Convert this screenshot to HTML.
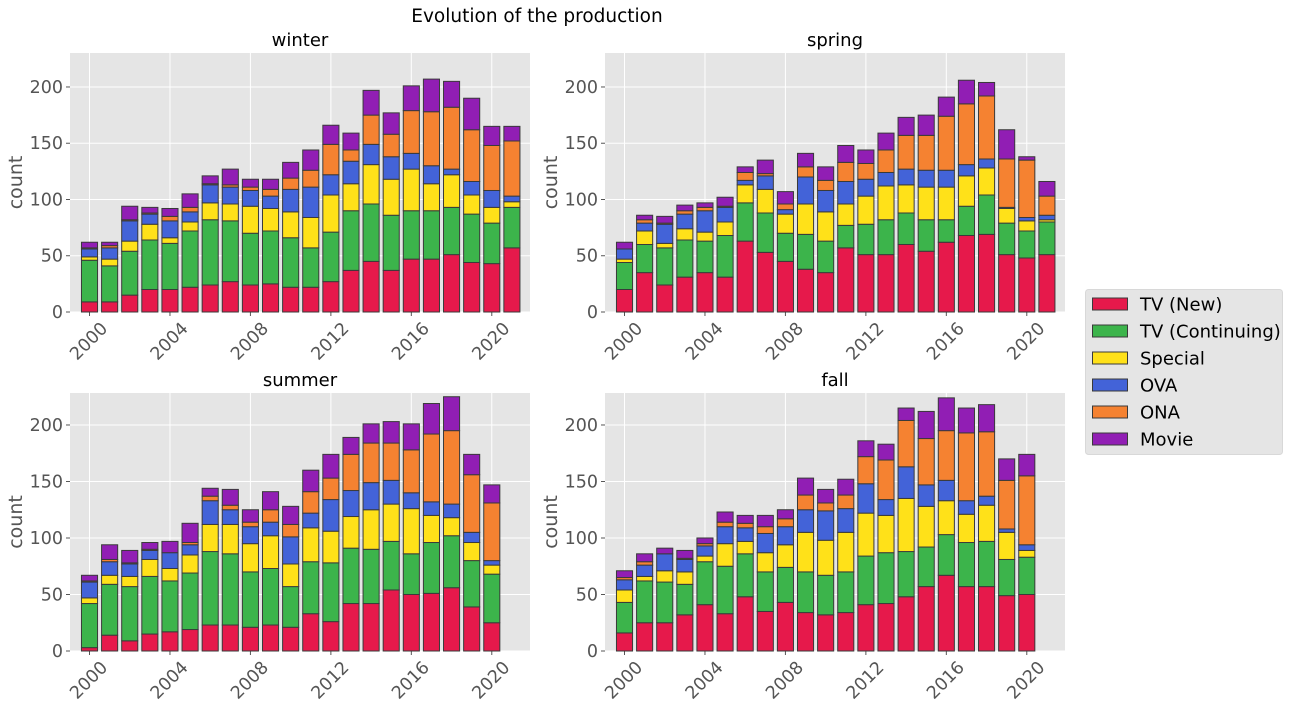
<!DOCTYPE html>
<html><head><meta charset="utf-8">
<style>
html,body{margin:0;padding:0;background:#fff;}
svg{display:block;font-family:"DejaVu Sans","Liberation Sans",sans-serif;}
</style></head>
<body>
<svg id="fig" width="1289" height="709" viewBox="0 0 1289 709" xmlns="http://www.w3.org/2000/svg">
<text x="537" y="22" font-size="18.5" text-anchor="middle" fill="#000">Evolution of the production</text>
</svg>
<script>
const years = [2000,2001,2002,2003,2004,2005,2006,2007,2008,2009,2010,2011,2012,2013,2014,2015,2016,2017,2018,2019,2020,2021];
const categories = ["TV (New)","TV (Continuing)","Special","OVA","ONA","Movie"];
const colors = ["#e6194b","#3cb44b","#ffe119","#4363d8","#f58231","#911eb4"];
const yTicks = [0,50,100,150,200];
const xTicks = [2000,2004,2008,2012,2016,2020];

const winterTvNew  = [9,9,15,20,20,22,24,27,24,25,22,22,27,37,45,37,47,47,51,44,43,57];
const winterTvCont = [37,32,39,44,41,50,58,54,46,47,44,35,44,53,51,49,43,43,42,43,36,36];
const winterSpecial= [3,6,9,14,5,8,15,15,24,20,23,27,33,24,35,32,37,24,29,17,14,5];
const winterOVA    = [7,10,18,9,15,9,16,15,14,11,20,27,18,20,18,20,14,16,5,12,15,5];
const winterONA    = [1,2,1,1,4,4,1,2,3,6,10,15,27,10,26,20,38,48,55,46,40,49];
const winterMovie  = [5,3,12,5,7,12,7,14,7,9,14,18,17,15,22,19,22,29,23,28,17,13];

const springTvNew  = [20,35,24,31,35,31,63,53,45,38,35,57,51,51,60,54,62,68,69,51,48,51];
const springTvCont = [24,25,33,33,28,37,34,35,25,31,28,20,27,31,28,28,20,26,35,28,24,29];
const springSpecial= [3,12,4,10,8,12,16,21,17,27,26,19,25,30,25,29,29,27,24,13,9,2];
const springOVA    = [9,7,17,13,19,13,4,12,4,24,19,20,15,12,14,15,15,10,8,1,3,4];
const springONA    = [0,3,1,3,3,1,7,2,5,9,9,17,14,20,30,31,48,54,56,43,51,17];
const springMovie  = [6,4,6,5,4,8,5,12,11,12,12,15,12,15,16,18,17,21,12,26,3,13];

const summerTvNew  = [3,14,9,15,17,19,23,23,21,23,21,33,26,42,42,54,50,51,56,39,25,0];
const summerTvCont = [39,45,48,51,45,50,65,63,49,50,36,46,52,49,48,43,36,45,46,41,43,0];
const summerSpecial= [5,8,9,15,11,16,24,26,25,29,20,30,28,28,35,33,40,24,16,16,8,0];
const summerOVA    = [14,12,11,8,14,9,21,13,15,12,24,13,28,23,24,21,14,12,12,9,4,0];
const summerONA    = [1,2,1,1,0,2,4,4,4,11,11,19,19,32,35,33,38,60,65,51,51,0];
const summerMovie  = [5,13,11,6,10,17,7,14,11,16,16,19,21,15,17,19,23,27,30,18,16,0];

const fallTvNew    = [16,25,25,32,41,33,48,35,43,34,32,34,41,42,48,57,67,57,57,49,50,0];
const fallTvCont   = [27,37,36,27,38,42,38,35,31,36,35,36,43,45,40,35,36,39,40,32,33,0];
const fallSpecial  = [11,4,10,11,5,20,11,17,20,35,31,35,38,33,47,36,30,25,32,24,6,0];
const fallOVA      = [9,10,15,11,9,15,12,17,16,20,26,21,26,14,28,19,18,12,8,3,5,0];
const fallONA      = [2,3,0,1,2,4,4,6,7,13,7,12,24,35,41,41,44,60,57,43,61,0];
const fallMovie    = [6,7,5,7,5,9,7,10,8,15,12,14,14,14,11,24,29,22,24,19,19,0];

const panels = [
  {name:"winter", series:[winterTvNew,winterTvCont,winterSpecial,winterOVA,winterONA,winterMovie], x0:70,x1:530,y0:53,y1:312,ymax:230.2},
  {name:"spring", series:[springTvNew,springTvCont,springSpecial,springOVA,springONA,springMovie], x0:605,x1:1065,y0:53,y1:312,ymax:230.2},
  {name:"summer", series:[summerTvNew,summerTvCont,summerSpecial,summerOVA,summerONA,summerMovie], x0:70,x1:530,y0:393,y1:651,ymax:228.3},
  {name:"fall", series:[fallTvNew,fallTvCont,fallSpecial,fallOVA,fallONA,fallMovie], x0:605,x1:1065,y0:393,y1:651,ymax:228.3}
];

const NS = "http://www.w3.org/2000/svg";
const svg = document.getElementById("fig");
function mk(tag, attrs, parent){
  const e = document.createElementNS(NS, tag);
  for (const k in attrs) e.setAttribute(k, attrs[k]);
  (parent||svg).appendChild(e);
  return e;
}

panels.forEach(p => {
  const xmin = 1999.03, xmax = 2021.9;
  const xs = v => p.x0 + (v - xmin) / (xmax - xmin) * (p.x1 - p.x0);
  const ys = v => p.y1 - v / p.ymax * (p.y1 - p.y0);
  const g = mk("g", {});
  
  
  const bg = mk("rect", {x:p.x0, y:p.y0, width:p.x1-p.x0, height:p.y1-p.y0, fill:"#e5e5e5"}, g);
  
  
  yTicks.forEach(t => {
    const y = ys(t);
    const gl = mk("line", {x1:p.x0, x2:p.x1, y1:y, y2:y, stroke:"#fff", "stroke-width":1}, g);
    
    
    mk("line", {x1:p.x0-4, x2:p.x0, y1:y, y2:y, stroke:"#555", "stroke-width":1}, g);
    const tl = mk("text", {x:p.x0-7, y:y+6, "font-size":17.5, fill:"#555", "text-anchor":"end"}, g);
    tl.textContent = t;
    
    
  });
  xTicks.forEach(t => {
    const x = xs(t);
    const gl = mk("line", {x1:x, x2:x, y1:p.y0, y2:p.y1, stroke:"#fff", "stroke-width":1}, g);
    
    
    mk("line", {x1:x, x2:x, y1:p.y1, y2:p.y1+4, stroke:"#555", "stroke-width":1}, g);
    const cx = x - 1, cy = p.y1 + 29;
    const tl = mk("text", {x:cx, y:cy+6, "font-size":17.5, fill:"#555", "text-anchor":"middle", transform:`rotate(-45 ${cx} ${cy})`}, g);
    tl.textContent = t;
    
    
  });
  const bw = 0.8;
  years.forEach((yr, i) => {
    let cum = 0;
    p.series.forEach((s, k) => {
      const v = s[i];
      if (!v) return;
      const yTop = ys(cum + v), yBot = ys(cum);
      const r = mk("rect", {x:xs(yr - bw/2), y:yTop, width:xs(yr + bw/2) - xs(yr - bw/2), height:yBot - yTop, fill:colors[k], stroke:"#3a3a3a", "stroke-width":1}, g);
      
      
      cum += v;
    });
  });
  const tt = mk("text", {x:(p.x0+p.x1)/2, y:p.y0-7, "font-size":18, fill:"#000", "text-anchor":"middle"}, g);
  tt.textContent = p.name;
  
  
  const yl = mk("text", {x:0, y:0, "font-size":19, fill:"#555", "text-anchor":"middle", transform:`translate(${p.x0-48} ${(p.y0+p.y1)/2}) rotate(-90)`}, g);
  yl.textContent = "count";
  
  
});

const lg = mk("g", {});


mk("rect", {x:1085.5, y:289.5, width:197, height:165, rx:3, fill:"#e5e5e5", stroke:"#d8d8d8"}, lg);
categories.forEach((c, k) => {
  const y = 298 + k*27;
  const sw = mk("rect", {x:1092.5, y:y, width:35, height:12, fill:colors[k], stroke:"#3a3a3a", "stroke-width":1}, lg);
  
  
  const t = mk("text", {x:1140, y:y+12.5, "font-size":18, fill:"#000"}, lg);
  t.textContent = c;
  
  
});
</script>
</body></html>
